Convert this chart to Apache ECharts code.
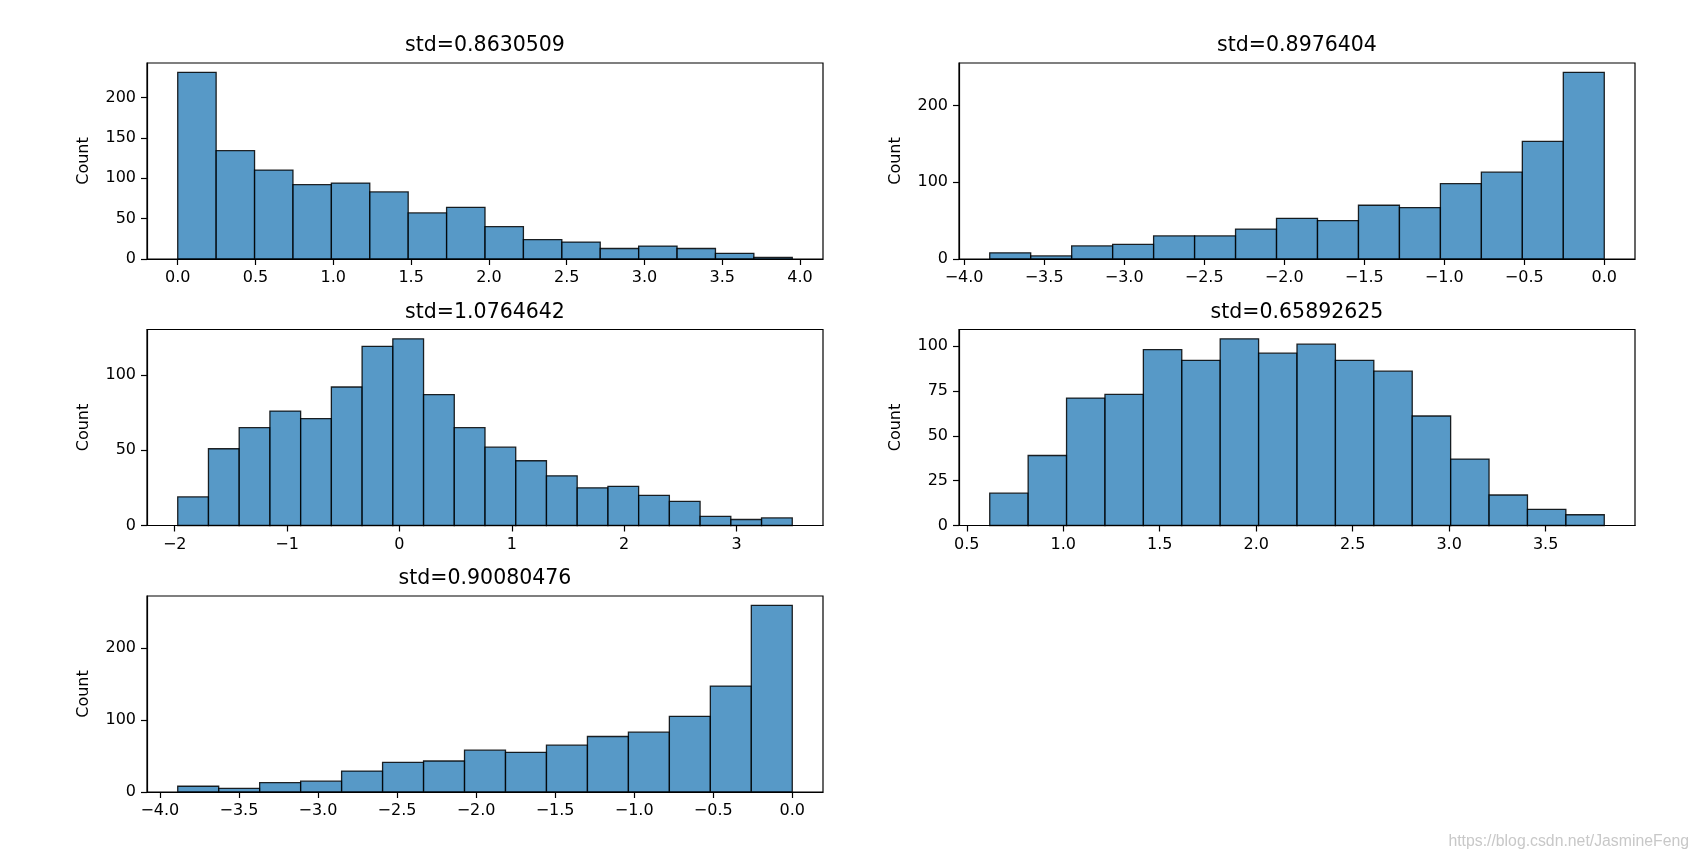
<!DOCTYPE html>
<html>
<head>
<meta charset="utf-8">
<script src="https://cdn.jsdelivr.net/npm/echarts@6/dist/echarts.min.js"></script>
<style>
html,body{margin:0;padding:0;background:#fff;}
#chart{width:1697px;height:860px;}
</style>
</head>
<body>
<div id="chart"></div>
<script>
// ---- data ----
const titles = ['std=0.8630509', 'std=0.8976404', 'std=1.0764642', 'std=0.65892625', 'std=0.90080476'];

const counts1 = [231, 134, 110, 92, 94, 83, 57, 64, 40, 24, 21, 13, 16, 13, 7, 2];
const counts2 = [8, 4, 17, 19, 30, 30, 39, 53, 50, 70, 67, 98, 113, 153, 243];
const counts3 = [19, 51, 65, 76, 71, 92, 119, 124, 87, 65, 52, 43, 33, 25, 26, 20, 16, 6, 4, 5];
const counts4 = [18, 39, 71, 73, 98, 92, 104, 96, 101, 92, 86, 61, 37, 17, 9, 6];
const counts5 = [8, 5, 13, 15, 29, 41, 43, 58, 55, 65, 77, 83, 105, 147, 259];

// histogram data range (first bin left edge, last bin right edge)
const range1 = [0.0, 3.95];
const range2 = [-3.84, 0.0];
const range3 = [-1.973, 3.496];
const range4 = [0.619, 3.804];
const range5 = [-3.887, 0.0];

const xTicks1 = [0, 0.5, 1, 1.5, 2, 2.5, 3, 3.5, 4];
const xTicks2 = [-4, -3.5, -3, -2.5, -2, -1.5, -1, -0.5, 0];
const xTicks3 = [-2, -1, 0, 1, 2, 3];
const xTicks4 = [0.5, 1, 1.5, 2, 2.5, 3, 3.5];
const xTicks5 = [-4, -3.5, -3, -2.5, -2, -1.5, -1, -0.5, 0];
const xDecimals = [1, 1, 0, 1, 1];

const yTicks1 = [0, 50, 100, 150, 200];
const yTicks2 = [0, 100, 200];
const yTicks3 = [0, 50, 100];
const yTicks4 = [0, 25, 50, 75, 100];
const yTicks5 = [0, 100, 200];

const yLabel = 'Count';
const watermark = 'https://blog.csdn.net/JasmineFeng';

// ---- build ----
const countsAll = [counts1, counts2, counts3, counts4, counts5];
const rangesAll = [range1, range2, range3, range4, range5];
const xTicksAll = [xTicks1, xTicks2, xTicks3, xTicks4, xTicks5];
const yTicksAll = [yTicks1, yTicks2, yTicks3, yTicks4, yTicks5];

// panel layout (pixels)
const PW = 676, PH = 196;
const colLeft = [147, 959];
const rowTop = [63, 329.5, 596];
const panelPos = [[0,0],[1,0],[0,1],[1,1],[0,2]];

const FONT = '"DejaVu Sans", sans-serif';

const grids = [], xAxes = [], yAxes = [], series = [], graphics = [];

countsAll.forEach((counts, k) => {
  const [c, r] = panelPos[k];
  const left = colLeft[c], top = rowTop[r];
  grids.push({left: left, top: top, width: PW, height: PH, show: true,
    borderColor: '#000', borderWidth: 1.2, backgroundColor: 'transparent',
    containLabel: false, outerBoundsMode: 'none'});

  const rg = rangesAll[k];
  const n = counts.length;
  const w = (rg[1] - rg[0]) / n;
  const data = counts.map((v, i) => [rg[0] + i * w, rg[0] + (i + 1) * w, v]);
  const span = rg[1] - rg[0];
  const xmin = rg[0] - 0.05 * span, xmax = rg[1] + 0.05 * span;
  const ymax = Math.max.apply(null, counts) * 1.05;
  const dec = xDecimals[k];

  xAxes.push({
    type: 'value', gridIndex: k, min: xmin, max: xmax, z: 5,
    splitLine: {show: false},
    axisLine: {show: true, onZero: false, lineStyle: {color: '#000', width: 1.2}},
    axisTick: {show: true, inside: false, length: 6, lineStyle: {color: '#000', width: 1.2},
      customValues: xTicksAll[k]},
    axisLabel: {show: true, margin: 11, color: '#000', fontSize: 16, fontFamily: FONT,
      customValues: xTicksAll[k],
      formatter: v => { let s = Math.abs(v) < 1e-9 ? (0).toFixed(dec) : v.toFixed(dec); return s.replace('-', '\u2212'); }}
  });
  yAxes.push({
    type: 'value', gridIndex: k, min: 0, max: ymax, z: 5,
    name: yLabel, nameLocation: 'middle', nameGap: 55, nameRotate: 90,
    nameTextStyle: {color: '#000', fontSize: 16, fontFamily: FONT},
    splitLine: {show: false},
    axisLine: {show: true, onZero: false, lineStyle: {color: '#000', width: 1.2}},
    axisTick: {show: true, inside: false, length: 6, lineStyle: {color: '#000', width: 1.2},
      customValues: yTicksAll[k]},
    axisLabel: {show: true, margin: 11, color: '#000', fontSize: 16, fontFamily: FONT,
      customValues: yTicksAll[k], formatter: v => String(Math.round(v))}
  });
  series.push({
    type: 'custom', xAxisIndex: k, yAxisIndex: k, z: 2,
    encode: {x: [0, 1], y: 2},
    data: data,
    renderItem: function (params, api) {
      const p0 = api.coord([api.value(0), api.value(2)]);
      const p1 = api.coord([api.value(1), 0]);
      return {
        type: 'rect',
        shape: {x: p0[0], y: p0[1], width: p1[0] - p0[0], height: p1[1] - p0[1]},
        style: {fill: 'rgba(31,119,180,0.75)', stroke: 'rgba(0,0,0,0.85)', lineWidth: 1.3}
      };
    }
  });
  graphics.push({
    type: 'text', x: left + PW / 2, y: top - 17,
    style: {text: titles[k], font: '20.5px ' + FONT, fill: '#000',
      align: 'center', verticalAlign: 'middle', textAlign: 'center', textVerticalAlign: 'middle'}
  });
});

graphics.push({
  type: 'text', x: 1689, y: 842,
  style: {text: watermark, font: '15.8px "Liberation Sans", Arial, sans-serif', fill: '#c8c8c8',
    align: 'right', verticalAlign: 'middle', textAlign: 'right', textVerticalAlign: 'middle'}
});

const chart = echarts.init(document.getElementById('chart'), null, {renderer: 'canvas'});
chart.setOption({
  animation: false,
  backgroundColor: '#fff',
  grid: grids,
  xAxis: xAxes,
  yAxis: yAxes,
  series: series,
  graphic: graphics
});
</script>
</body>
</html>
